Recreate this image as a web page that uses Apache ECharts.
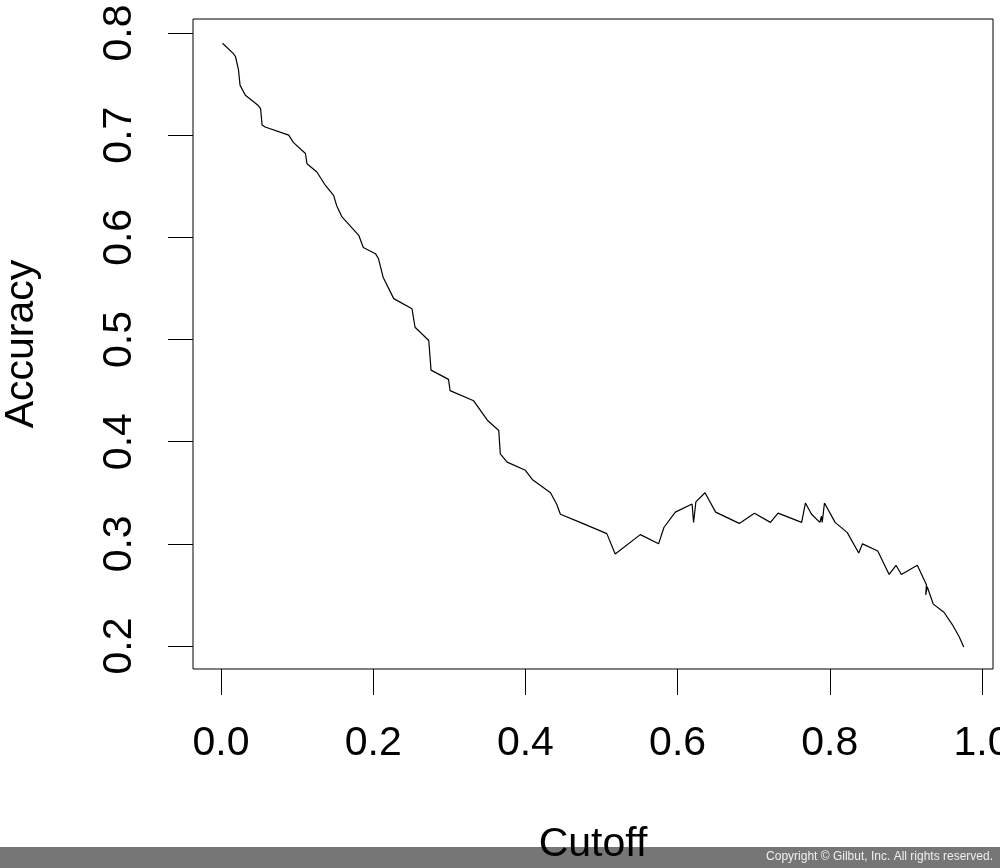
<!DOCTYPE html>
<html>
<head>
<meta charset="utf-8">
<script src="https://cdn.jsdelivr.net/npm/echarts@6/dist/echarts.min.js"></script>
<style>
html,body{margin:0;padding:0;background:#fff;}
#main{width:1000px;height:868px;}
</style>
</head>
<body>
<div id="main"></div>
<script>
const cutoff = [0.002,0.016,0.019,0.023,0.025,0.032,0.049,0.052,0.054,0.058,0.089,0.095,0.111,0.113,0.126,0.137,0.148,0.152,0.159,0.181,0.187,0.203,0.207,0.213,0.227,0.251,0.255,0.273,0.276,0.299,0.301,0.332,0.350,0.365,0.367,0.376,0.400,0.409,0.433,0.441,0.446,0.472,0.507,0.518,0.551,0.575,0.582,0.597,0.619,0.621,0.624,0.636,0.650,0.681,0.701,0.722,0.732,0.763,0.768,0.776,0.787,0.789,0.790,0.793,0.807,0.823,0.838,0.843,0.863,0.878,0.887,0.894,0.915,0.927,0.926,0.928,0.936,0.950,0.961,0.970,0.976];
const accuracy = [0.790,0.780,0.777,0.764,0.749,0.739,0.729,0.726,0.710,0.708,0.700,0.693,0.682,0.672,0.664,0.651,0.641,0.631,0.620,0.602,0.590,0.584,0.579,0.561,0.540,0.530,0.512,0.499,0.470,0.461,0.450,0.440,0.421,0.411,0.388,0.380,0.372,0.363,0.350,0.339,0.329,0.321,0.310,0.290,0.309,0.300,0.316,0.331,0.339,0.321,0.341,0.350,0.331,0.320,0.330,0.321,0.330,0.321,0.340,0.329,0.321,0.327,0.321,0.340,0.321,0.311,0.291,0.300,0.293,0.270,0.279,0.270,0.279,0.260,0.250,0.258,0.241,0.233,0.221,0.209,0.199];
const xTitle = 'Cutoff';
const yTitle = 'Accuracy';
const copyright = 'Copyright \u00A9 Gilbut, Inc. All rights reserved.';

const FONT = "'Liberation Sans', Arial, sans-serif";
const chart = echarts.init(document.getElementById('main'), null, {renderer:'canvas'});
const pts = cutoff.map((c,i)=>[c, accuracy[i]]);
const G = {containLabel:false, outerBoundsMode:'none'};
const hiddenAxis = (g, mn, mx)=>({gridIndex:g, type:'value', show:false, min:mn, max:mx});
const nameOnly = (g, name, gap, extra)=>Object.assign({gridIndex:g, type:'value', min:0, max:1, show:true,
  axisLine:{show:false}, axisTick:{show:false}, axisLabel:{show:false}, splitLine:{show:false},
  name:name, nameLocation:'middle', nameGap:gap,
  nameTextStyle:{fontSize:41, color:'#000', fontFamily:FONT}}, extra||{});

chart.setOption({
  animation:false,
  backgroundColor:'#fff',
  textStyle:{fontFamily:FONT},
  grid:[
    Object.assign({left:193, right:7, top:19, bottom:199, show:true, borderColor:'#000', borderWidth:1, backgroundColor:'transparent'}, G),
    Object.assign({left:221, right:18, top:33, bottom:222}, G),   // data
    Object.assign({left:193, right:18, top:33, bottom:222}, G),   // y axis
    Object.assign({left:221, right:18, top:19, bottom:199}, G)    // x axis
  ],
  xAxis:[
    nameOnly(0, xTitle, 155, {position:'bottom'}),
    hiddenAxis(1,0,1),
    hiddenAxis(2,0,1),
    {gridIndex:3, type:'value', min:0, max:1, interval:0.2, position:'bottom', z:10,
     axisLine:{show:false},
     axisTick:{show:true, length:26, lineStyle:{color:'#000', width:1}},
     axisLabel:{fontSize:41, color:'#000', margin:54, fontFamily:FONT, formatter:v=>v.toFixed(1)},
     splitLine:{show:false}}
  ],
  yAxis:[
    nameOnly(0, yTitle, 151, {position:'left', nameRotate:90}),
    hiddenAxis(1,0.2,0.8),
    {gridIndex:2, type:'value', min:0.2, max:0.8, interval:0.1, position:'left', z:10,
     axisLine:{show:false},
     axisTick:{show:true, length:25, lineStyle:{color:'#000', width:1}},
     axisLabel:{fontSize:41, color:'#000', margin:53, rotate:90, fontFamily:FONT, formatter:v=>v.toFixed(1)},
     splitLine:{show:false}},
    hiddenAxis(3,0,1)
  ],
  graphic:[
    {type:'rect', z:-1, shape:{x:0, y:847, width:1000, height:21}, style:{fill:'#767676'}},
    {type:'text', z:100, x:993, y:857, style:{text:copyright, fill:'#f0f0f0', font:'12px '+FONT, textAlign:'right', textVerticalAlign:'middle'}}
  ],
  series:[
    {type:'line', xAxisIndex:1, yAxisIndex:1, data:pts, showSymbol:false, symbol:'none', clip:false,
     lineStyle:{color:'#000', width:1.2}, z:5}
  ]
});
</script>
</body>
</html>
